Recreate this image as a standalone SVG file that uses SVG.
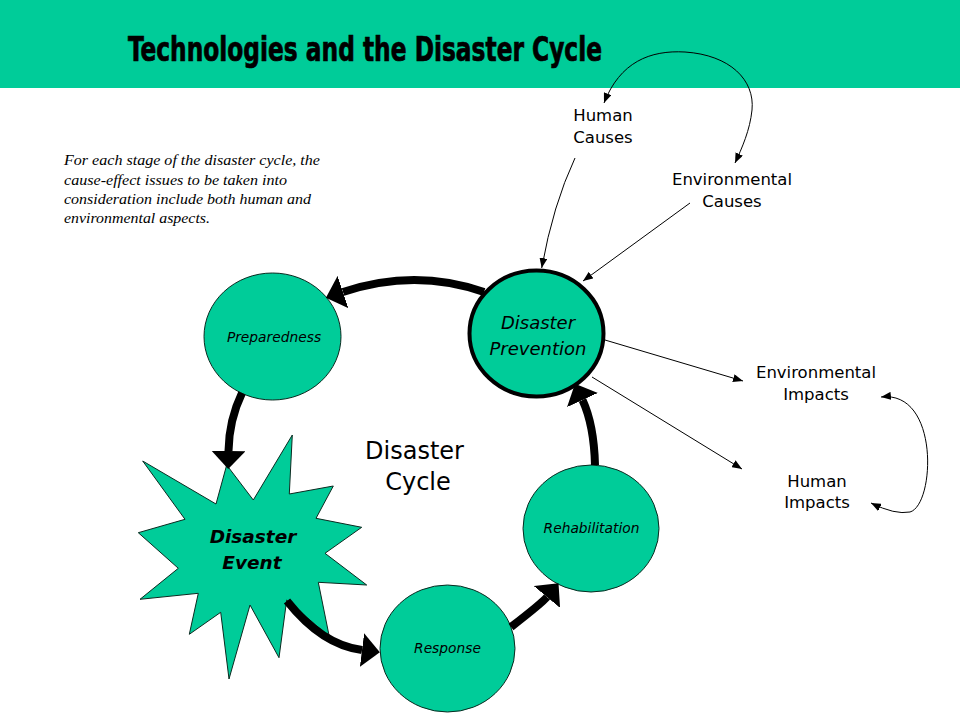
<svg xmlns="http://www.w3.org/2000/svg" width="960" height="720" viewBox="0 0 960 720">
<defs>
<style>
.node{fill:#00CC99;stroke:#0b2a20;stroke-width:1}
.lbl{font-family:"DejaVu Sans",Verdana,sans-serif;fill:#000;text-anchor:middle}
.it{font-style:italic}
.thick{fill:none;stroke:#000;stroke-width:8}
.thin{fill:none;stroke:#000;stroke-width:1}
.para{font-family:"Liberation Serif","Times New Roman",serif;font-style:italic;font-size:15px;fill:#000}
</style>
<marker id="big" viewBox="0 -17 18 34" refX="0" refY="0" markerWidth="18" markerHeight="34" markerUnits="userSpaceOnUse" orient="auto">
<path d="M0,-17 L18,0 L0,17 z" fill="#000"/>
</marker>
<marker id="ah" viewBox="0 0 10 8" refX="10" refY="4" markerWidth="10" markerHeight="8" markerUnits="userSpaceOnUse" orient="auto-start-reverse">
<path d="M0,0 L10,4 L0,8 z" fill="#000"/>
</marker>
</defs>
<rect width="960" height="720" fill="#fff"/>
<g id="header">
<rect x="0" y="0" width="960" height="88" fill="#00CC99"/>
<text x="128" y="61" font-family="'Liberation Sans Narrow','DejaVu Sans Condensed',sans-serif" font-weight="bold" font-size="33" textLength="474" lengthAdjust="spacingAndGlyphs" fill="#000" stroke="#000" stroke-width="0.7">Technologies and the Disaster Cycle</text>
</g>
<g id="note">
<text class="para" x="64" y="165" textLength="256" lengthAdjust="spacingAndGlyphs">For each stage of the disaster cycle, the</text>
<text class="para" x="64" y="184.5" textLength="223" lengthAdjust="spacingAndGlyphs">cause-effect issues to be taken into</text>
<text class="para" x="64" y="204" textLength="247" lengthAdjust="spacingAndGlyphs">consideration include both human and</text>
<text class="para" x="64" y="223" textLength="146" lengthAdjust="spacingAndGlyphs">environmental aspects.</text>
</g>
<g id="preparedness">
<ellipse class="node" cx="272.5" cy="336.5" rx="68.5" ry="63.5"/>
<text class="lbl it" x="274" y="342" font-size="13.8">Preparedness</text>
</g>
<g id="prevention">
<ellipse class="node" cx="536.5" cy="333.5" rx="67" ry="63" style="stroke:#000;stroke-width:4"/>
<text class="lbl it" x="538" y="329" font-size="18">Disaster</text>
<text class="lbl it" x="538" y="355" font-size="18">Prevention</text>
</g>
<g id="rehabilitation">
<ellipse class="node" cx="591" cy="528.5" rx="68" ry="63.5"/>
<text class="lbl it" x="591.5" y="533" font-size="13.8">Rehabilitation</text>
</g>
<g id="response">
<ellipse class="node" cx="447.5" cy="648.5" rx="67.5" ry="63.5"/>
<text class="lbl it" x="447.5" y="653" font-size="13.8">Response</text>
</g>
<g id="event">
<polygon class="node" points="142.7,461 216,504 226.7,465 253.3,500 292.3,435 289.3,494 333.3,486 316,518.3 361.7,527.3 325,553.3 366.7,585 318.3,582.3 329.3,636.7 286.7,600 279,657.7 250,605 229,679 220.7,612.3 189.3,634.3 198.3,593.3 140,599.3 178.3,568.3 138.3,532.7 185,519.3"/>
<text class="lbl it" x="253" y="543" font-size="18.5" font-weight="bold">Disaster</text>
<text class="lbl it" x="252" y="569" font-size="18.5" font-weight="bold">Event</text>
</g>
<g id="cycle-label">
<text class="lbl" x="414.5" y="459" font-size="24">Disaster</text>
<text class="lbl" x="418" y="490" font-size="24">Cycle</text>
</g>
<g id="human-causes">
<text class="lbl" x="603" y="121" font-size="16.5">Human</text>
<text class="lbl" x="603" y="143" font-size="16.5">Causes</text>
</g>
<g id="environmental-causes">
<text class="lbl" x="732" y="185" font-size="16.5">Environmental</text>
<text class="lbl" x="732" y="207" font-size="16.5">Causes</text>
</g>
<g id="environmental-impacts">
<text class="lbl" x="816" y="378" font-size="16.5">Environmental</text>
<text class="lbl" x="816" y="400" font-size="16.5">Impacts</text>
</g>
<g id="human-impacts">
<text class="lbl" x="817" y="487" font-size="16.5">Human</text>
<text class="lbl" x="817" y="508" font-size="16.5">Impacts</text>
</g>
<g id="connectors">
<path class="thick" d="M484,292 Q415,268 343,292" marker-end="url(#big)"/>
<path class="thick" d="M242,393 Q229,420 228.5,451" marker-end="url(#big)"/>
<path class="thick" d="M287,601 Q322,645 362,650" marker-end="url(#big)"/>
<path class="thick" d="M511,627 Q542,603 547,597" marker-end="url(#big)"/>
<path class="thick" d="M595,465 Q594,425 582.5,400" marker-end="url(#big)"/>
<path class="thin" d="M575,158 Q553,205 541.7,268" marker-end="url(#ah)"/>
<path class="thin" d="M690,203 L583,281" marker-end="url(#ah)"/>
<path class="thin" d="M604,103 C620,62 650,50 685,52 C730,55 755,80 752,110 C750,130 742,148 735,163" marker-start="url(#ah)" marker-end="url(#ah)"/>
<path class="thin" d="M605,340 L743,381" marker-end="url(#ah)"/>
<path class="thin" d="M592,377 L742,469" marker-end="url(#ah)"/>
<path class="thin" d="M881,397 C940,390 935,505 910,512 Q895,515 871,503" marker-start="url(#ah)" marker-end="url(#ah)"/>
</g>
</svg>
